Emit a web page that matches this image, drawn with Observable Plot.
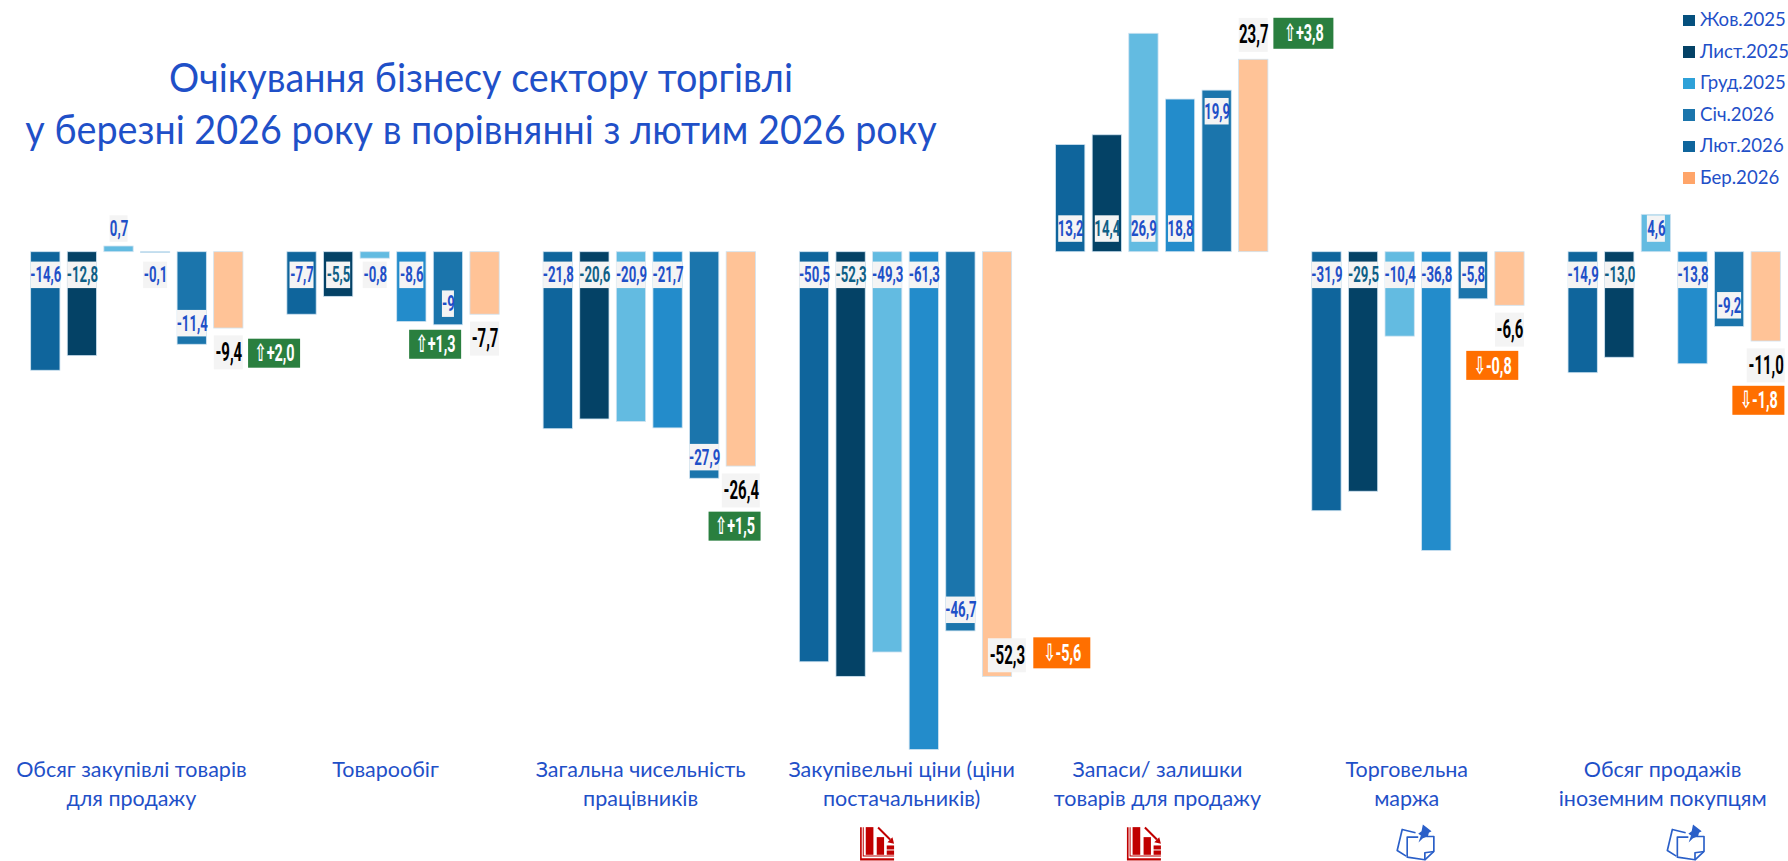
<!doctype html>
<html lang="uk"><head><meta charset="utf-8">
<script src="https://cdn.jsdelivr.net/npm/d3@7"></script>
<script src="https://cdn.jsdelivr.net/npm/@observablehq/plot@0.6"></script>
<style>
html,body{margin:0;padding:0;background:#fff;overflow:hidden}
#wrap{position:relative;width:1788px;height:861px;overflow:hidden;font-family:Lato,sans-serif;color:#1f50c8}
#title{position:absolute;left:-69px;top:51px;width:1100px;text-align:center;font-size:41px;line-height:52px;font-weight:400;white-space:nowrap;transform:scaleX(.92)}
#legend{position:absolute;left:1683px;top:4px;font-size:18.6px;line-height:31.6px}
#legend div{white-space:nowrap}
#legend i{display:inline-block;width:11.5px;height:11.5px;margin-right:5.5px}
svg{display:block}
</style></head><body><div id="wrap">
<div id="title">Очікування бізнесу сектору торгівлі<br>у березні 2026 року в порівнянні з лютим 2026 року</div>
<div id="legend"></div>
<div id="chart"></div>
</div>
<script>
const categories = [
  "Обсяг закупівлі товарів\nдля продажу","Товарообіг","Загальна чисельність\nпрацівників",
  "Закупівельні ціни (ціни\nпостачальників)","Запаси/ залишки\nтоварів для продажу","Торговельна\nмаржа",
  "Обсяг продажів\nіноземним покупцям"];
const seriesNames = ["Жов.2025","Лист.2025","Груд.2025","Січ.2026","Лют.2026","Бер.2026"];
const oct2025 = [-14.6,-7.7,-21.8,-50.5,13.2,-31.9,-14.9];
const nov2025 = [-12.8,-5.5,-20.6,-52.3,14.4,-29.5,-13.0];
const dec2025 = [0.7,-0.8,-20.9,-49.3,26.9,-10.4,4.6];
const jan2026 = [-0.1,-8.6,-21.7,-61.3,18.8,-36.8,-13.8];
const feb2026 = [-11.4,-9,-27.9,-46.7,19.9,-5.8,-9.2];
const mar2026 = [-9.4,-7.7,-26.4,-52.3,23.7,-6.6,-11.0];
const changes = ["+2,0","+1,3","+1,5","-5,6","+3,8","-0,8","-1,8"];
const seriesValues = [oct2025,nov2025,dec2025,jan2026,feb2026,mar2026];

// placement of each label: at the bar's base, inside its end, or outside its end
const febPlace = ["end","end","end","end","end","base","end"];
const marPlace = ["out","out","out","end","out","out","out"];
const marShift = [0,0,0,0.27,0,0,0];
// badge centres in slot units and value units
const badgeSlot = [6.75,11.15,19.33,28.27,34.87,40.03,47.3];
const badgeValue = [-12.5,-11.4,-33.8,-49.4,26.9,-14,-18.3];
const categorySlot = [2.84,9.78,16.75,23.88,30.87,37.68,44.67];
const categoryValue = -62.1;
const iconKinds = [null,null,null,"down","down","pin","pin"];
const iconSlot = [0,0,0,23.31,30.60,37.92,45.30];
const iconValue = -72.2;

const barColors = ["#0f659c","#044266","#63bbe1","#238ccb","#1b75ac","#ffc397"];
const legendColors = ["#05507e","#044266","#2ea1d8","#1b75ac","#0f659c","#ffa569"];
const BLUE="#1f50c8", TEAL="#0f5f86";
const fmt = v => String(v).replace(".",",");
const fmtLabels = {"-13":"-13,0","-11":"-11,0"};

const bars = [];
seriesValues.forEach((vals,s)=>vals.forEach((v,g)=>{
  const sign = v<0?-1:1;
  const place = s==5?marPlace[g]:s==4?febPlace[g]:"base";
  const ly = place=="base"?sign*2.85:place=="end"?v-sign*2.6:v+sign*3.0;
  const label = fmtLabels[v]||fmt(v);
  const main = s==5;
  const len = label.length;
  const w = main?(len>4?38:29):({2:12,3:18,4:24,5:29.4}[len]);
  const h = main?34:26.5;
  const slot = g*7+s;
  const lx = slot+0.5+(main?marShift[g]:0);
  bars.push({g,s,v,slot,lx,ly,label,w,h});
}));
const PX=36.6, PY=8.12;
const badges = changes.map((c,g)=>({c,g,
  x:badgeSlot[g], y:badgeValue[g],
  up:c[0]=="+", w:[52,52,52,57,60,52,52][g]/PX, h:(g==3||g==4?31:29)/PY}));
const catRows = categories.map((c,i)=>({c,x:categorySlot[i],y:categoryValue}));

function icon(kind){
  const s = kind=="down"
   ? `<svg xmlns="http://www.w3.org/2000/svg" viewBox="0 0 180 138"><g fill="#c00000"><path d="M28 35h5v93h97v7H28z"/><path d="M36 35h3v85h91v3H36z"/><rect x="45" y="35" width="23" height="83"/><rect x="78" y="65" width="22" height="53"/><rect x="108" y="90" width="22" height="12"/><rect x="108" y="105" width="22" height="13"/></g><path d="M82 36L118 72" stroke="#c00000" stroke-width="6" fill="none"/><path d="M110 80l20 5-5-20z" fill="#c00000"/></svg>`
   : `<svg xmlns="http://www.w3.org/2000/svg" viewBox="0 0 180 138"><g fill="none" stroke="#2a5fc8" stroke-width="5" stroke-linejoin="round"><path d="M90 52L50 42L35 105L62 122"/><path d="M98 65H65V125L118 133L145 108V63H122"/><path d="M145 108L118 112V133"/></g><path d="M112 27L138 47L130 52L127 63L112 68L99 81L106 60L98 55L108 47Z" fill="#2a5fc8"/></svg>`;
  return "data:image/svg+xml;utf8,"+encodeURIComponent(s);
}
const icons = iconKinds.map((k,i)=>k&&({k,x:iconSlot[i],y:iconValue,src:icon(k)})).filter(Boolean);

const chart = Plot.plot({
  width:1788,height:861,margin:0,
  x:{domain:[0,48],range:[27,1784],axis:null},
  y:{domain:[-(861-251.7)/PY,251.7/PY],range:[861,0],axis:null},
  marks:[
    Plot.rect(bars,{x1:d=>d.slot+0.1,x2:d=>d.slot+0.9,y1:0,y2:"v",fill:d=>barColors[d.s],stroke:"#cfe3f1",strokeWidth:0.8}),
    Plot.rect(bars,{x1:d=>d.lx-d.w/PX/2,x2:d=>d.lx+d.w/PX/2,y1:d=>d.ly-d.h/PY/2,y2:d=>d.ly+d.h/PY/2,fill:"#f4f4f4"}),
    Plot.text(bars,{className:"squeeze",x:"lx",y:"ly",text:"label",
      fill:d=>d.s==5?"#000":d.s==1?TEAL:BLUE,fontWeight:700,
      fontSize:d=>d.s==5?25:22,fontFamily:"Roboto,sans-serif"}),
    Plot.rect(badges,{x1:d=>d.x-d.w/2,x2:d=>d.x+d.w/2,y1:d=>d.y-d.h/2,y2:d=>d.y+d.h/2,fill:d=>d.up?"#2a7f3f":"#ff6f00"}),
    Plot.text(badges,{className:"squeeze",x:"x",y:"y",text:d=>(d.up?"⇧":"⇩")+d.c,fill:"#fff",fontWeight:700,fontSize:24,
      fontFamily:"Roboto,'DejaVu Sans',sans-serif"}),
    Plot.text(catRows,{x:"x",y:"y",text:"c",fill:BLUE,fontSize:21.5,lineHeight:1.35,lineAnchor:"top",fontFamily:"Lato,sans-serif"}),
    Plot.image(icons,{x:"x",y:"y",src:"src",width:60,height:46,preserveAspectRatio:"none"})
  ]
});
document.getElementById("chart").append(chart);
d3.select(chart).selectAll(".squeeze text").each(function(){
  const t=this.getAttribute("transform")||"";
  this.setAttribute("transform",t+" scale(0.6,1)");
});
const lg=document.getElementById("legend");
seriesNames.forEach((n,i)=>{const d=document.createElement("div");
  const b=document.createElement("i");b.style.background=legendColors[i];d.append(b,n);lg.append(d);});
</script></body></html>
